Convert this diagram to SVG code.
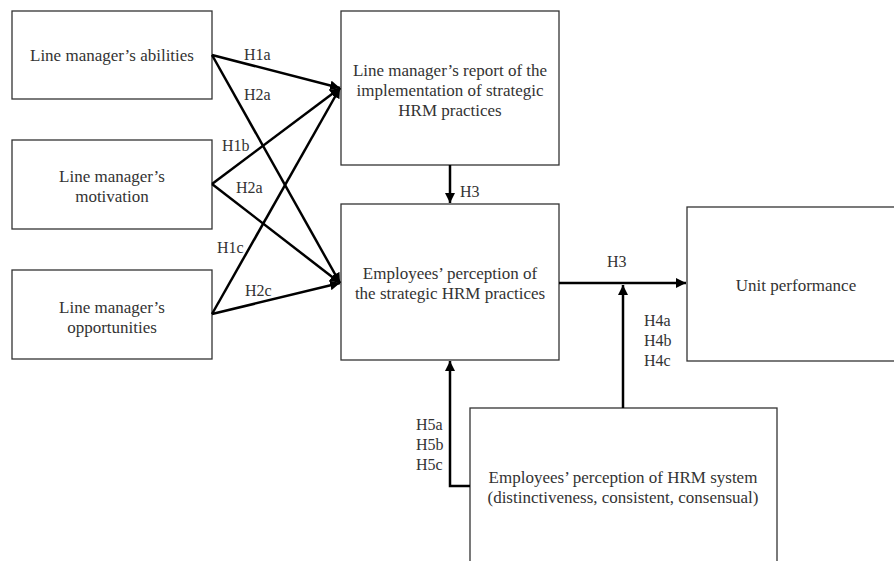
<svg xmlns="http://www.w3.org/2000/svg" width="894" height="561" viewBox="0 0 894 561">
<style>
.box{fill:#fff;stroke:#333;stroke-width:1.3}
.t{font-family:"Liberation Serif","Times New Roman",serif;font-size:17px;fill:#333;text-anchor:middle}
.l{font-family:"Liberation Serif","Times New Roman",serif;font-size:16px;fill:#333}
.c{fill:none;stroke:#000;stroke-width:2.5}
</style>
<defs>
<marker id="a" viewBox="0 0 10 10" refX="10" refY="5" markerWidth="4" markerHeight="4" orient="auto" markerUnits="strokeWidth">
<path d="M0,0 L10,5 L0,10 z" fill="#000"/>
</marker>
</defs>
<rect width="894" height="561" fill="#fff"/>
<g id="n1"><rect class="box" x="12" y="11" width="200" height="88"/><text class="t" x="112" y="61">Line manager’s abilities</text></g>
<g id="n2"><rect class="box" x="12" y="140" width="200" height="89"/><text class="t" x="112" y="182">Line manager’s</text><text class="t" x="112" y="202">motivation</text></g>
<g id="n3"><rect class="box" x="12" y="270" width="200" height="89"/><text class="t" x="112" y="313">Line manager’s</text><text class="t" x="112" y="333">opportunities</text></g>
<g id="n4"><rect class="box" x="341" y="11" width="218" height="154"/><text class="t" x="450" y="76">Line manager’s report of the</text><text class="t" x="450" y="96">implementation of strategic</text><text class="t" x="450" y="116">HRM practices</text></g>
<g id="n5"><rect class="box" x="341" y="204" width="218" height="156"/><text class="t" x="450" y="279">Employees’ perception of</text><text class="t" x="450" y="299">the strategic HRM practices</text></g>
<g id="n6"><rect class="box" x="687" y="207" width="220" height="154"/><text class="t" x="796" y="291">Unit performance</text></g>
<g id="n7"><rect class="box" x="470" y="408" width="307" height="170"/><text class="t" x="623" y="483">Employees’ perception of HRM system</text><text class="t" x="623" y="503">(distinctiveness, consistent, consensual)</text></g>
<g id="connectors">
<line class="c" x1="212" y1="55" x2="340" y2="88" marker-end="url(#a)"/>
<line class="c" x1="212" y1="55" x2="340" y2="283" marker-end="url(#a)"/>
<line class="c" x1="212" y1="184" x2="340" y2="88" marker-end="url(#a)"/>
<line class="c" x1="212" y1="184" x2="340" y2="283" marker-end="url(#a)"/>
<line class="c" x1="212" y1="314" x2="340" y2="88" marker-end="url(#a)"/>
<line class="c" x1="212" y1="314" x2="340" y2="283" marker-end="url(#a)"/>
<line class="c" x1="450" y1="165" x2="450" y2="203" marker-end="url(#a)"/>
<line class="c" x1="559" y1="283" x2="686" y2="283" marker-end="url(#a)"/>
<line class="c" x1="623" y1="408" x2="623" y2="285" marker-end="url(#a)"/>
<polyline class="c" points="470,486 450,486 450,361" marker-end="url(#a)"/>
<text class="l" x="244" y="60">H1a</text>
<text class="l" x="244" y="100">H2a</text>
<text class="l" x="222" y="151">H1b</text>
<text class="l" x="236" y="193">H2a</text>
<text class="l" x="217" y="253">H1c</text>
<text class="l" x="245" y="296">H2c</text>
<text class="l" x="460" y="197">H3</text>
<text class="l" x="607" y="267">H3</text>
<text class="l" x="644" y="326">H4a</text>
<text class="l" x="644" y="346">H4b</text>
<text class="l" x="644" y="366">H4c</text>
<text class="l" x="416" y="430">H5a</text>
<text class="l" x="416" y="450">H5b</text>
<text class="l" x="416" y="470">H5c</text>
</g>
</svg>
